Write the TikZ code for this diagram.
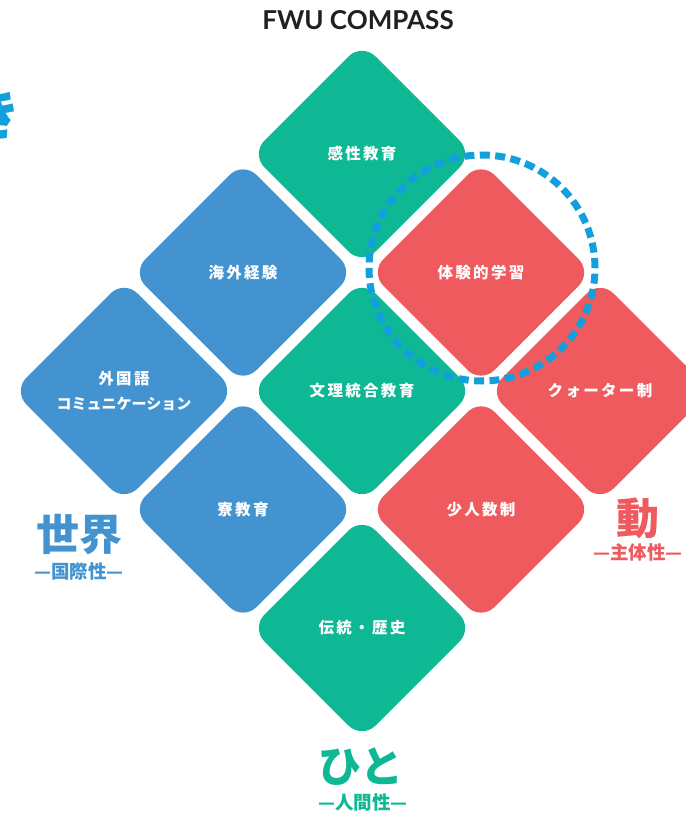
\documentclass[tikz,border=0pt]{standalone}
\usepackage{fontspec}
\setmainfont{Lato}
\newfontfamily\jp[LetterSpace=15]{Noto Sans CJK JP}
\newfontfamily\jpn{Noto Sans CJK JP}
\usetikzlibrary{shapes.geometric}
\definecolor{cgreen}{HTML}{0FB894}
\definecolor{cblue}{HTML}{4393D0}
\definecolor{cred}{HTML}{EF5A5E}
\definecolor{ccyan}{HTML}{12A0DC}
\definecolor{ctitle}{HTML}{231F20}
\begin{document}
\begin{tikzpicture}[x=1pt,y=-1pt,
  tile/.style={diamond, aspect=1, minimum width=222pt, minimum height=222pt,
    inner sep=0pt, outer sep=0pt, rounded corners=19pt, text=white,
    font=\jp\bfseries\fontsize{15.5}{25}\selectfont, align=center},
  gtile/.style={tile, fill=cgreen},
  btile/.style={tile, fill=cblue},
  rtile/.style={tile, fill=cred},
  biglabel/.style={font=\jpn\bfseries\fontsize{43}{43}\selectfont, inner sep=0pt},
  sublabel/.style={font=\jpn\bfseries\fontsize{18.5}{18.5}\selectfont, inner sep=0pt},
  focusring/.style={circle, minimum size=226pt, inner sep=0pt, draw=ccyan,
    line width=7pt, dash pattern=on 10pt off 5.43pt}
]
\useasboundingbox (0,0) rectangle (685,818);

\node[font=\fontsize{26}{26}\selectfont\bfseries, text=ctitle] (title) at (358,20) {FWU COMPASS};

\node[font=\jpn\bfseries\fontsize{56}{56}\selectfont, text=ccyan, inner sep=0pt] (ki) at (-6,114) {き};

\node[gtile] (kansei)  at (362,154)   {感性教育};
\node[btile] (kaigai)  at (243,272.5) {海外経験};
\node[rtile] (taiken)  at (481,272.5) {体験的学習};
\node[btile] (gaikoku) at (124,391)   {外国語\\{\jpn\bfseries\fontsize{15}{25}\selectfont コミュニケーション}};
\node[gtile] (bunri)   at (362,391)   {文理統合教育};
\node[rtile] (quarter) at (600,391)   {クォーター制};
\node[btile] (ryo)     at (243,509.5) {寮教育};
\node[rtile] (shonin)  at (481,509.5) {少人数制};
\node[gtile] (dento)   at (362,628)   {伝統・歴史};

\node[focusring] (focus) at (482,268) {};

\node[biglabel, text=cblue] (sekai) at (79,535) {世界};
\node[sublabel, text=cblue] (kokusai) at (79,571) {—国際性—};
\node[biglabel, text=cred] (do) at (638,518) {動};
\node[sublabel, text=cred] (shutai) at (638,552) {—主体性—};
\node[biglabel, text=cgreen] (hito) at (361,767) {ひと};
\node[sublabel, text=cgreen] (ningen) at (363,802) {—人間性—};
\end{tikzpicture}
\end{document}
